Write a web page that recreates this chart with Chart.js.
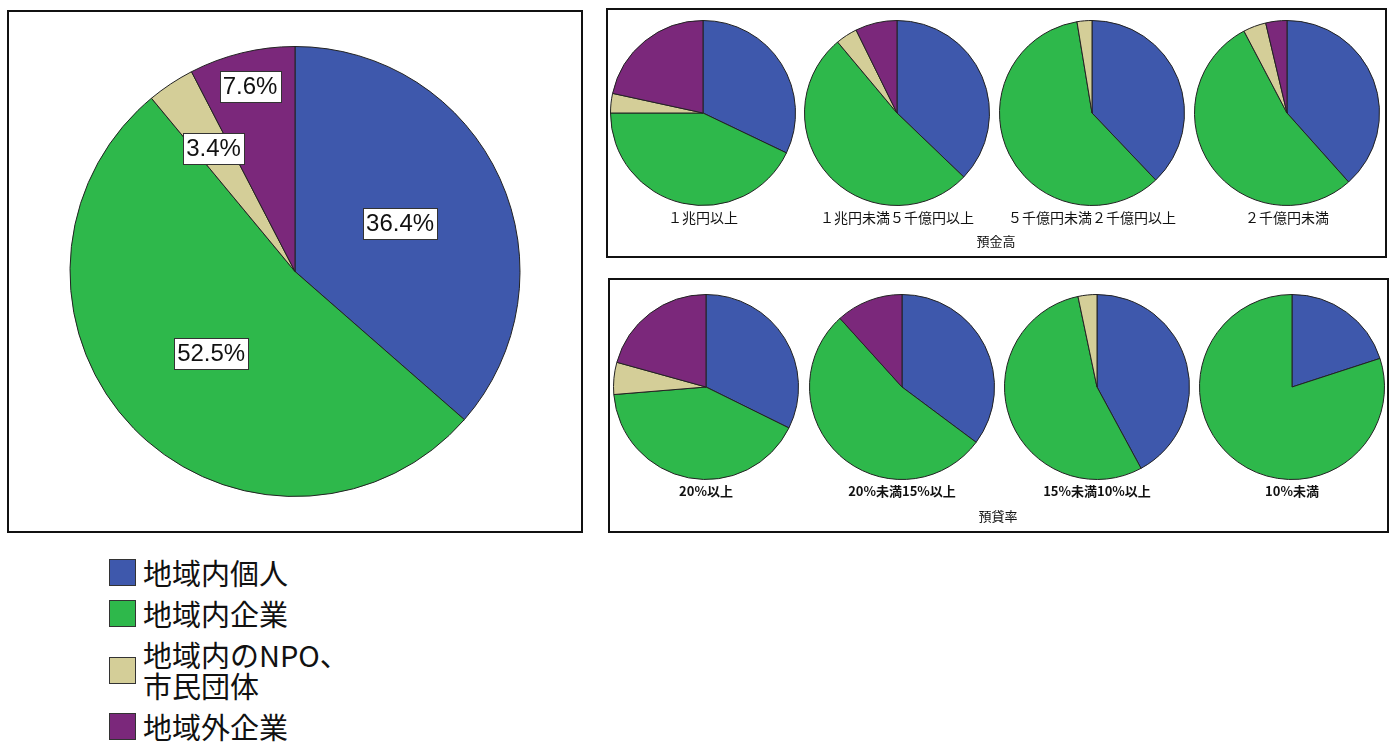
<!DOCTYPE html>
<html lang="ja">
<head>
  <meta charset="UTF-8">
  <title>預金高・預貸率別 構成比</title>
  <script src="https://cdn.jsdelivr.net/npm/chart.js"></script>
  <style>
    body {
      margin: 0;
      width: 1392px;
      height: 742px;
      background: #fff;
      position: relative;
      overflow: hidden;
      font-family: "Noto Sans CJK JP", "Noto Sans", sans-serif;
    }
    .box {
      position: absolute;
      border: 2px solid #111;
      box-sizing: border-box;
    }
    .pie {
      position: absolute;
    }
    .pie-label {
      position: absolute;
      width: 240px;
      text-align: center;
      font-size: 14px;
      line-height: 16px;
      color: #111;
    }
    .bold { font-weight: bold; font-size: 13px; }
    .axis-title {
      position: absolute;
      width: 200px;
      text-align: center;
      font-size: 13px;
      line-height: 16px;
      color: #111;
    }
    #legend {
      position: absolute;
      left: 109px;
      top: 557px;
    }
    .legend-item {
      display: flex;
      align-items: center;
      margin-bottom: 10px;
      font-size: 29px;
      line-height: 31px;
      color: #111;
    }
    .swatch {
      width: 25px;
      height: 25px;
      border: 1px solid #333;
      margin-right: 7px;
      flex: none;
    }
  </style>
</head>
<body>
  <div class="box" style="left:7px; top:10px; width:576px; height:523px;"></div>
  <canvas id="mainPie" class="pie" width="572" height="519" style="left:9px; top:12px;"></canvas>

  <div class="box" style="left:606px; top:8px; width:781px; height:250px;"></div>
  <div class="box" style="left:608px; top:278px; width:781px; height:255px;"></div>

  <div id="legend"></div>

  <script>
    // categories and colours
    var categories = ['地域内個人', '地域内企業', ['地域内のNPO、', '市民団体'], '地域外企業'];
    var colors = ['#3e58ac', '#2eb84b', '#d4ce98', '#7b287b'];

    // overall shares (%)
    var overall = [36.4, 52.5, 3.4, 7.6];

    // by deposit size (預金高)
    var depositGroups = ['１兆円以上', '１兆円未満５千億円以上', '５千億円未満２千億円以上', '２千億円未満'];
    var depositIndividual = [32.1, 37.2, 37.9, 38.4];
    var depositCompany = [42.9, 51.8, 59.5, 53.9];
    var depositNpo = [3.4, 3.8, 2.6, 4.0];
    var depositOutside = [21.6, 7.3, 0, 3.7];

    // by loan-to-deposit ratio (預貸率)
    var loanGroups = ['20%以上', '20%未満15%以上', '15%未満10%以上', '10%未満'];
    var loanIndividual = [32.3, 35.2, 42.1, 20.0];
    var loanCompany = [41.4, 53.1, 54.6, 80.0];
    var loanNpo = [5.6, 0, 3.3, 0];
    var loanOutside = [20.7, 11.7, 0, 0];

    // layout
    var depositCentersX = [703, 897, 1092, 1287];
    var depositCenterY = 112.5;
    var loanCentersX = [706, 902, 1097, 1292];
    var loanCenterY = 386.5;
    var smallRadius = 92.5;
    var labelRadius = [0.513, 0.52, 0.656, 0.845];

    Chart.defaults.font.family = '"Noto Sans CJK JP", sans-serif';

    // percentage boxes on the big pie
    var boxLabels = {
      id: 'boxLabels',
      afterDatasetsDraw: function(chart) {
        var ctx = chart.ctx;
        var meta = chart.getDatasetMeta(0);
        ctx.save();
        ctx.font = '24px "Liberation Sans", Arial, sans-serif';
        ctx.textAlign = 'center';
        ctx.textBaseline = 'middle';
        meta.data.forEach(function(arc, i) {
          var p = arc.getProps(['x', 'y', 'startAngle', 'endAngle', 'outerRadius'], true);
          var mid = (p.startAngle + p.endAngle) / 2;
          var r = p.outerRadius * labelRadius[i];
          var cx = p.x + Math.cos(mid) * r;
          var cy = p.y + Math.sin(mid) * r;
          var text = overall[i].toFixed(1) + '%';
          var w = ctx.measureText(text).width + 6;
          var h = 31;
          ctx.fillStyle = '#fff';
          ctx.fillRect(Math.round(cx - w / 2) + 0.5, Math.round(cy - h / 2) + 0.5, Math.round(w), h);
          ctx.strokeStyle = '#333';
          ctx.lineWidth = 1;
          ctx.strokeRect(Math.round(cx - w / 2) + 0.5, Math.round(cy - h / 2) + 0.5, Math.round(w), h);
          ctx.fillStyle = '#111';
          ctx.fillText(text, cx, cy + 1);
        });
        ctx.restore();
      }
    };

    function pieOptions(radius) {
      return {
        responsive: false,
        animation: false,
        radius: radius,
        layout: { padding: 0 },
        plugins: {
          legend: { display: false },
          tooltip: { enabled: false }
        }
      };
    }

    new Chart(document.getElementById('mainPie'), {
      type: 'pie',
      data: {
        labels: categories,
        datasets: [{
          data: overall,
          backgroundColor: colors,
          borderColor: '#222',
          borderWidth: 1
        }]
      },
      options: pieOptions(225),
      plugins: [boxLabels]
    });

    function smallPie(cx, cy, values, label, labelY, bold) {
      var size = 190;
      var canvas = document.createElement('canvas');
      canvas.width = size;
      canvas.height = size;
      canvas.className = 'pie';
      canvas.style.left = (cx - size / 2) + 'px';
      canvas.style.top = (cy - size / 2) + 'px';
      document.body.appendChild(canvas);

      var div = document.createElement('div');
      div.className = 'pie-label' + (bold ? ' bold' : '');
      div.style.left = (cx - 120) + 'px';
      div.style.top = (labelY - 8) + 'px';
      div.textContent = label;
      document.body.appendChild(div);

      new Chart(canvas, {
        type: 'pie',
        data: {
          labels: categories,
          datasets: [{
            data: values,
            backgroundColor: colors,
            borderColor: '#222',
            borderWidth: 1
          }]
        },
        options: pieOptions(smallRadius)
      });
    }

    depositGroups.forEach(function(g, i) {
      smallPie(depositCentersX[i], depositCenterY,
        [depositIndividual[i], depositCompany[i], depositNpo[i], depositOutside[i]],
        g, 216.5, false);
    });
    loanGroups.forEach(function(g, i) {
      smallPie(loanCentersX[i], loanCenterY,
        [loanIndividual[i], loanCompany[i], loanNpo[i], loanOutside[i]],
        g, 491, true);
    });

    function axisTitle(text, cx, cy) {
      var div = document.createElement('div');
      div.className = 'axis-title';
      div.style.left = (cx - 100) + 'px';
      div.style.top = (cy - 8) + 'px';
      div.textContent = text;
      document.body.appendChild(div);
    }
    axisTitle('預金高', 996, 241);
    axisTitle('預貸率', 998, 516);

    // legend
    var legend = document.getElementById('legend');
    categories.forEach(function(c, i) {
      var item = document.createElement('div');
      item.className = 'legend-item';
      var sw = document.createElement('span');
      sw.className = 'swatch';
      sw.style.background = colors[i];
      var txt = document.createElement('span');
      txt.innerHTML = Array.isArray(c) ? c.join('<br>') : c;
      item.appendChild(sw);
      item.appendChild(txt);
      legend.appendChild(item);
    });
  </script>
</body>
</html>
